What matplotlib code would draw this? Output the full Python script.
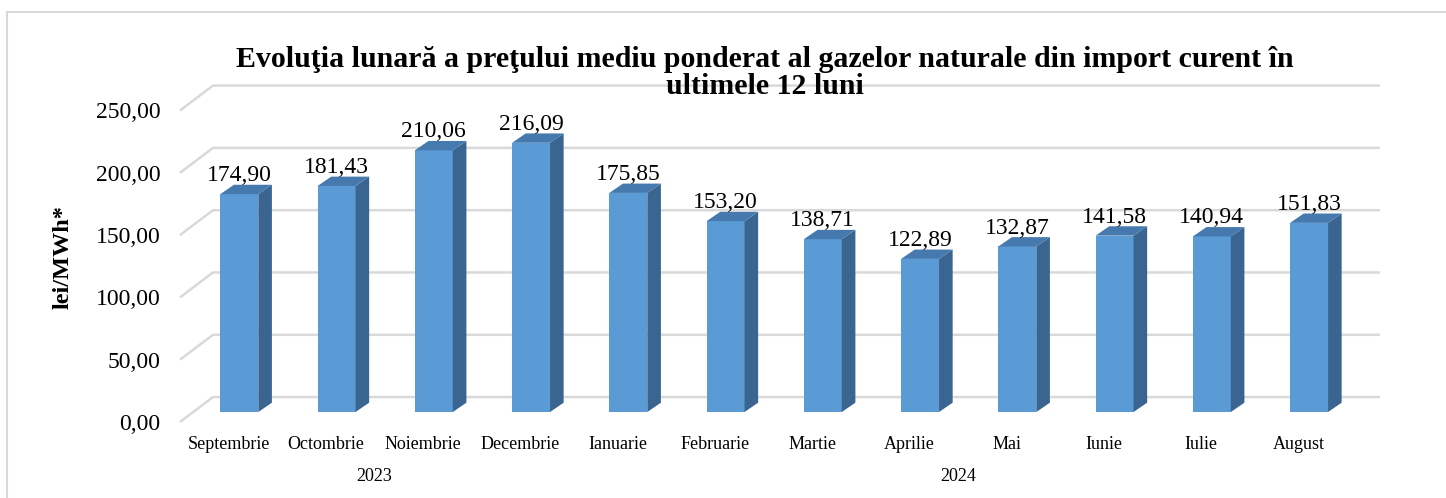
import matplotlib
matplotlib.use('Agg')
import matplotlib.pyplot as plt
from matplotlib.patches import Polygon, Rectangle
import numpy as np

# --- Data ---
months = ['Septembrie', 'Octombrie', 'Noiembrie', 'Decembrie', 'Ianuarie', 'Februarie',
          'Martie', 'Aprilie', 'Mai', 'Iunie', 'Iulie', 'August']
prices = [174.90, 181.43, 210.06, 216.09, 175.85, 153.20,
          138.71, 122.89, 132.87, 141.58, 140.94, 151.83]
years = ['2023', '2024']
year_groups = [(0, 3), (4, 11)]
yticks = [0, 50, 100, 150, 200, 250]

# --- Pseudo 3D geometry (data units) ---
DXB, DYB = 0.339, 20.0      # depth of the floor / back wall
BX, BY = 0.11, 8.0          # bar front face offset from front plane
DX, DY = 0.14, 7.5          # bar depth
W = 0.39

FRONT = '#5B9BD5'
SIDE = '#3A6590'
TOP = '#4679AD'
GRID = '#d9d9d9'


def fmt(v):
    return f'{v:.2f}'.replace('.', ',')


plt.rcParams['font.family'] = ['Liberation Serif', 'DejaVu Serif']

fig = plt.figure(figsize=(14.46, 4.98), dpi=100)
ax = fig.add_axes([180 / 1446, 76 / 498, 1167 / 1446, 311.5 / 498])
n = len(months)
ax.set_xlim(-0.5, n - 0.5)
ax.set_ylim(0, 250)

# back wall gridlines with slanted left edge
for v in yticks:
    ax.plot([-0.5, -0.5 + DXB, n - 0.5 + DXB], [v, v + DYB, v + DYB],
            color=GRID, lw=1.8, zorder=1, clip_on=False, solid_capstyle='butt')

x = np.arange(n)
ax.bar(x + BX, prices, width=W, bottom=BY, color=FRONT, zorder=3, clip_on=False)
for xi, v in zip(x, prices):
    xl = xi + BX - W / 2
    xr = xi + BX + W / 2
    side = [(xr, BY), (xr, v + BY), (xr + DX, v + BY + DY), (xr + DX, BY + DY)]
    top = [(xl, v + BY), (xr, v + BY), (xr + DX, v + BY + DY), (xl + DX, v + BY + DY)]
    ax.add_patch(Polygon(side, closed=True, facecolor=SIDE, edgecolor='none', zorder=3, clip_on=False))
    ax.add_patch(Polygon(top, closed=True, facecolor=TOP, edgecolor='none', zorder=3, clip_on=False))
    ax.annotate(fmt(v), (xi + BX, v + BY + DY), xytext=(0, -1), textcoords='offset points',
                ha='center', va='bottom', fontsize=17, zorder=4)

ax.set_yticks(yticks)
ax.set_yticklabels([fmt(t) for t in yticks], fontsize=17)
ax.set_xticks(x)
ax.set_xticklabels(months, fontsize=13)
ax.tick_params(axis='y', length=0, pad=14)
ax.tick_params(axis='x', length=0, pad=10)
for s in ax.spines.values():
    s.set_visible(False)
ax.patch.set_visible(False)

# year group labels
for yr, (a, b) in zip(years, year_groups):
    ax.text((a + b) / 2, -44, yr, ha='center', va='center', fontsize=13, clip_on=False)

fig.text(63 / 1446, 1 - 257 / 498, 'lei/MWh*', rotation=90, ha='center', va='center',
         fontsize=17.5, fontweight='bold')
fig.text(765 / 1446, 1 - 73 / 498,
         'Evoluţia lunară a preţului mediu ponderat al gazelor naturale din import curent în\nultimele 12 luni',
         ha='center', va='center', fontsize=21.5, fontweight='bold', linespacing=0.98)

fig.add_artist(Rectangle((7 / 1446, -0.1), 1.2, 1.1 - 12 / 498, transform=fig.transFigure,
                         fill=False, edgecolor=GRID, lw=1.5))

fig.savefig('out.png', dpi=100)
